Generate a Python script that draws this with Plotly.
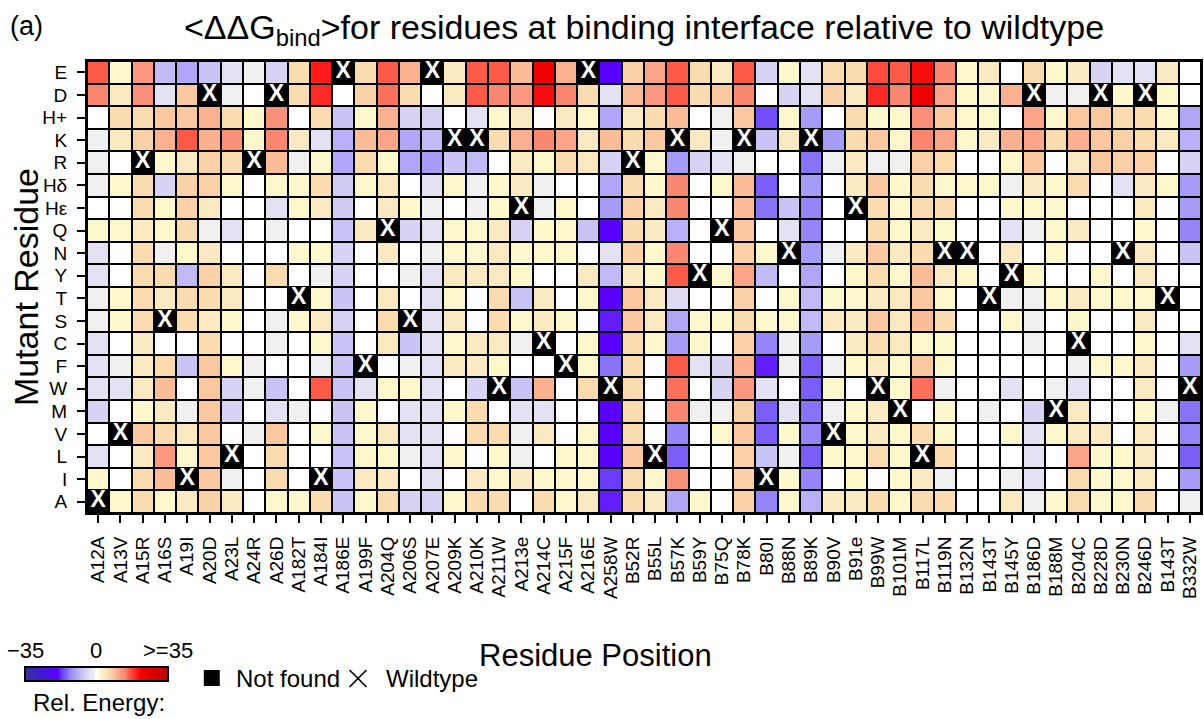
import plotly.graph_objects as go

# Residue positions at the binding interface (chain + number + wildtype residue)
positions = [
    "A12A", "A13V", "A15R", "A16S", "A19I", "A20D", "A23L", "A24R", "A26D", "A182T",
    "A184I", "A186E", "A199F", "A204Q", "A206S", "A207E", "A209K", "A210K", "A211W", "A213e",
    "A214C", "A215F", "A216E", "A258W", "B52R", "B55L", "B57K", "B59Y", "B75Q", "B78K",
    "B80I", "B88N", "B89K", "B90V", "B91e", "B99W", "B101M", "B117L", "B119N", "B132N",
    "B143T", "B145Y", "B186D", "B188M", "B204C", "B228D", "B230N", "B246D", "B143T", "B332W",
]

# Mutant residues, top to bottom
mutants = ["E", "D", "H+", "K", "R", "Hδ", "Hε", "Q", "N", "Y",
           "T", "S", "C", "F", "W", "M", "V", "L", "I", "A"]

# <ΔΔG_bind> relative to wildtype (None = wildtype residue at that position)
row_E = [16, 2, 12, -8, -10, -7, -3, -1, -5, 6, 20, None, 6,
         16, 10, None, 4, 16, 16, 9, 22, 10, None, -19, 7, 11,
         16, 6, 4, 16, -5, 2, -3, 6, 6, 17, 16, 21,
         14, 2, 4, 0, 6, 2, 4, -5, -3, -3, 4, 0]
row_D = [14, 4, 13, -3, 8, None, -1, 0, None, 6, 19, 0, 7,
         15, 6, 0, 4, 16, 14, 12, 21, 14, 6, -3, 9, 12,
         16, 6, 8, 14, 0, -5, -3, 7, 4, 19, 14, 22,
         11, 2, 2, 10, None, -1, -1, None, 2, None, 2, 0]
row_Hp = [0, 6, 6, 8, 8, 10, 6, 2, 13, 0, 6, -7, 2,
          10, -5, -5, 0, -3, 2, 4, 0, 4, 2, -10, 4, 6,
          9, 0, -1, 8, -16, 2, -11, 0, 6, 2, 2, 13,
          8, 2, 2, 0, 11, 2, 8, 8, 6, 6, 2, -10]
row_K = [-1, 4, 7, 10, 16, 10, 13, 2, 14, 4, -3, -9, 9,
         11, -10, -8, None, None, 6, 10, 14, 11, 4, 9, 6, 8,
         None, 4, -1, None, -7, 4, None, -11, 6, 8, 2, 14,
         11, 2, 4, 10, 11, 6, 10, 8, 7, 6, 4, -9]
row_R = [-1, 0, None, 2, 4, 7, 6, None, 9, -1, 2, -10, 6,
         2, -10, -11, -7, -8, 0, 4, 2, 6, 4, -5, None, 2,
         -11, -5, -3, -1, 0, 0, -14, -1, 4, -1, -1, 7,
         6, 0, 0, 2, 8, 0, 4, 8, 7, 7, 0, -5]
row_Hd = [-1, 2, 6, -5, 7, 7, 2, 0, 2, 2, 6, -6, 2,
          4, 0, -3, 2, -1, 2, 4, -1, 0, 0, -10, 6, 2,
          14, 0, 2, 9, -15, 0, -11, 0, 4, 8, 2, 6,
          2, 2, 2, -1, 4, 2, 6, 0, -3, 4, 2, -11]
row_He = [0, 0, 6, 2, 7, 4, 0, 0, -3, 2, 4, -6, 0,
          4, 2, -1, 0, -1, 2, None, -1, 2, 0, -11, 7, 4,
          14, 0, 0, 9, -14, -7, -13, 0, None, 6, 2, 6,
          6, 0, 0, 2, 2, 2, 0, 0, 0, 4, 0, -11]
row_Q = [2, 2, 4, 2, 6, -1, -3, 0, -1, 0, 0, -7, 4,
         None, -5, -3, 2, 2, 4, -5, 2, 2, -7, -19, 6, 4,
         -9, 0, None, 8, 0, -3, -13, 0, 0, 6, 2, 4,
         2, 0, 0, -3, -1, 2, 4, 0, 0, 2, 0, -13]
row_N = [-3, 0, 6, -1, 2, 4, 0, 0, 0, 2, 2, -5, 0,
         4, 0, -1, 2, 2, 4, 2, 2, 2, 0, -3, 7, 2,
         14, 0, 0, 7, 2, None, -11, -1, 4, 8, 4, 6,
         None, None, 0, 4, 0, 2, 0, 0, None, 4, 0, -7]
row_Y = [-3, 0, 6, 6, -8, 7, 4, 0, 6, 0, -1, -5, 0,
         0, -1, -3, 4, 4, 4, 2, 0, 0, 4, -8, 4, 2,
         16, None, 2, 11, -8, 0, -10, 0, 2, 6, 2, 9,
         4, 2, 0, None, 2, 0, 0, 2, 0, 4, 0, 0]
row_T = [-1, 2, 6, 4, 6, 6, 4, 0, 0, None, 2, -7, 0,
         4, 0, -3, 2, 0, 6, -7, 4, 0, 2, -19, 8, 4,
         -4, 0, 0, 7, 0, 2, -8, 2, 2, 4, 4, 8,
         2, 0, None, -1, -1, 2, 4, 2, 2, 2, None, 0]
row_S = [-1, 2, 6, None, 6, 4, 2, 0, -1, 2, 4, -5, 0,
         6, None, -3, 4, 0, 6, 2, 4, 2, 0, -18, 8, 4,
         -10, 2, 2, 6, 2, 2, -8, 4, 4, 8, 4, 9,
         6, 0, 0, 2, -1, 0, 2, 0, 0, 4, 0, 0]
row_C = [-3, 0, 4, 0, 0, 6, 0, 0, -1, 0, 2, -7, 0,
         4, -7, -3, 2, 4, 4, -1, None, 0, 2, -19, 6, 2,
         -11, 2, 0, 7, -13, -1, -11, 0, 4, 6, 4, 2,
         2, 0, 0, 0, -1, 0, None, 0, 0, 2, 0, -3]
row_F = [-3, -1, 4, 6, -7, 8, 2, -1, 0, 0, -1, -7, None,
         0, -1, -3, 4, 4, 2, 0, 0, None, 2, -14, 6, 0,
         16, -3, -5, 10, -18, -1, -15, -1, 2, 4, 2, 8,
         2, 0, 0, 0, 0, 0, -1, 2, 2, 4, 0, -11]
row_W = [-3, -3, 4, 9, 0, 8, -5, -1, -7, 0, 16, -7, -3,
         2, 2, -3, 0, -5, None, -7, 10, 0, 6, None, 6, 0,
         15, 0, -5, 12, -3, 0, -15, 2, 0, None, 2, 15,
         -1, 0, 0, -3, 0, -1, -3, 0, 0, 4, 0, None]
row_M = [-5, 0, 2, 4, -1, 8, -5, 0, -3, -1, 0, -7, 2,
         0, -3, -3, 2, 6, 0, -3, -3, 0, 0, -19, 6, 0,
         14, -1, -1, 7, -15, -3, -14, -1, 2, 4, None, 0,
         2, 0, -1, 0, -5, None, 4, 0, 0, 2, -1, -14]
row_V = [0, None, 8, 6, 4, 8, 0, -1, 8, 0, 2, -7, 2,
         4, -3, -3, 0, 6, 6, -1, 4, 0, 2, -19, 6, 0,
         -13, 0, 2, 8, -15, 2, -13, None, 2, 4, 2, 6,
         2, 0, 0, 2, -3, 2, 4, 4, 0, 4, 0, -13]
row_L = [-3, 0, 4, 12, 2, 8, None, 0, 6, 0, 0, -7, 2,
         2, -1, -3, 2, 0, 2, -1, 0, 2, 2, -19, 8, None,
         -15, 0, 0, 7, -7, -1, -15, 2, 2, 6, 2, None,
         6, 0, 0, 0, -3, 0, 11, 2, 2, 4, 0, -15]
row_I = [2, 0, 6, 9, None, 8, -1, 0, 6, 0, None, -7, 4,
         4, 0, -3, 0, 4, 2, 4, 2, 2, 2, -17, 6, 2,
         13, 0, 0, 7, None, 2, -13, 0, 2, 0, 2, 4,
         -1, 0, 0, -1, -3, 0, 6, 2, 2, 4, 0, -11]
row_A = [None, 2, 6, 2, 4, 7, 4, 0, 2, 2, 6, -7, 2,
         6, -5, -5, 2, 6, 6, 0, 6, 2, 4, -18, 6, 4,
         -10, 2, 0, 7, -13, 2, -9, 4, 4, 6, 2, 6,
         6, 0, 0, 4, -1, 2, 6, 2, 2, 6, 0, -1]

z = [row_E, row_D, row_Hp, row_K, row_R, row_Hd, row_He, row_Q, row_N, row_Y,
     row_T, row_S, row_C, row_F, row_W, row_M, row_V, row_L, row_I, row_A]

ZMIN, ZMAX = -35, 35

# Diverging scale: navy/violet for negative, white at 0, cream-salmon-red for positive
anchors = [
    (-35, "#34349a"), (-27, "#3f1ad2"), (-19, "#5a00ff"), (-17, "#6a3cff"),
    (-15, "#7b5ef8"), (-13, "#9585f8"), (-11, "#a59cf8"), (-9, "#b8b0f8"),
    (-7, "#c8c4f5"), (-5, "#d6d3f3"), (-3, "#e4e2f2"), (-1, "#f0f0f0"),
    (0, "#ffffff"), (2, "#fcf8cc"), (4, "#fbe9c2"), (6, "#fbdcb0"),
    (8, "#fbc8a0"), (10, "#fbb090"), (12, "#fa9880"), (14, "#fa8870"),
    (16, "#ff5a48"), (18, "#ff3a30"), (20, "#ff1a1a"), (22, "#f00000"),
    (35, "#c00000"),
]
colorscale = [[(v - ZMIN) / (ZMAX - ZMIN), c] for v, c in anchors]

# Wildtype cell of every position, taken from the last letter of its label
code_to_row = {m: i for i, m in enumerate(mutants)}
code_to_row["e"] = mutants.index("Hε")
wt_x = list(range(len(positions)))
wt_y = [code_to_row[p[-1]] for p in positions]

FONT = "Liberation Sans, Arial, sans-serif"
W, H = 1204, 719
L_M, R_M, T_M, B_M = 87, 1, 61, 206
PW, PH = W - L_M - R_M, H - T_M - B_M


def px_x(px):
    return (px - L_M) / PW


def px_y(py):
    return (H - B_M - py) / PH


fig = go.Figure()

fig.add_trace(go.Heatmap(
    z=z,
    x=list(range(len(positions))),
    y=list(range(len(mutants))),
    zmin=ZMIN, zmax=ZMAX,
    colorscale=colorscale,
    xgap=2, ygap=2,
    hoverongaps=False,
    colorbar=dict(
        orientation="h",
        x=px_x(25), xanchor="left",
        y=px_y(683), yanchor="bottom",
        lenmode="pixels", len=143,
        thickness=14,
        xpad=0, ypad=0,
        outlinewidth=2, outlinecolor="black",
        showticklabels=False, ticks="",
    ),
))

# White X on the black wildtype cells
fig.add_trace(go.Scatter(
    x=wt_x, y=wt_y, mode="text", text=["<b>X</b>"] * len(wt_x),
    textfont=dict(color="white", size=23, family=FONT),
    hoverinfo="skip", showlegend=False,
))

# Colour bar tick labels above the bar, caption below it
cb_left, cb_len = 25, 143
for val, txt in [(-35, "−35"), (0, "0"), (35, ">=35")]:
    px = cb_left + (val - ZMIN) / (ZMAX - ZMIN) * cb_len
    fig.add_annotation(
        xref="paper", yref="paper", x=px_x(px), y=px_y(650),
        text=txt, showarrow=False, xanchor="center", yanchor="middle",
        font=dict(size=22, color="black", family=FONT),
    )
fig.add_annotation(
    xref="paper", yref="paper", x=px_x(31), y=px_y(702),
    text="Rel. Energy:", showarrow=False, xanchor="left", yanchor="middle",
    font=dict(size=24, color="black", family=FONT),
)

# Key for the cell markers: filled square = not found, thin cross = wildtype
fig.add_shape(type="rect", xref="paper", yref="paper",
              x0=px_x(204), x1=px_x(220), y0=px_y(686), y1=px_y(670),
              fillcolor="black", line=dict(width=0))
fig.add_annotation(
    xref="paper", yref="paper", x=px_x(234), y=px_y(678),
    text="Not found", showarrow=False, xanchor="left", yanchor="middle",
    font=dict(size=24, color="black", family=FONT),
)
for (a, b, c, d) in [(350, 670, 367, 687), (350, 687, 367, 670)]:
    fig.add_shape(type="line", xref="paper", yref="paper",
                  x0=px_x(a), y0=px_y(b), x1=px_x(c), y1=px_y(d),
                  line=dict(color="black", width=1.6))
fig.add_annotation(
    xref="paper", yref="paper", x=px_x(385), y=px_y(678),
    text="Wildtype", showarrow=False, xanchor="left", yanchor="middle",
    font=dict(size=24, color="black", family=FONT),
)

# Panel tag
fig.add_annotation(
    xref="paper", yref="paper", x=px_x(8), y=px_y(26),
    text="(a)", showarrow=False, xanchor="left", yanchor="middle",
    font=dict(size=27, color="black", family=FONT),
)

# Axis titles
fig.add_annotation(
    xref="paper", yref="paper", x=px_x(596), y=px_y(655),
    text="Residue Position", showarrow=False, xanchor="center", yanchor="middle",
    font=dict(size=31, color="black", family=FONT),
)
fig.add_annotation(
    xref="paper", yref="paper", x=px_x(26), y=px_y(287),
    text="Mutant Residue", showarrow=False, textangle=-90,
    xanchor="center", yanchor="middle",
    font=dict(size=34, color="black", family=FONT),
)

axis_common = dict(
    showline=True, mirror=True, linecolor="black", linewidth=2,
    ticks="outside", ticklen=8, tickwidth=2, tickcolor="black",
    showgrid=False, zeroline=False,
)

fig.update_layout(
    width=W, height=H,
    margin=dict(l=L_M, r=R_M, t=T_M, b=B_M),
    paper_bgcolor="white",
    plot_bgcolor="black",
    font=dict(family=FONT, color="black"),
    showlegend=False,
    title=dict(
        text="&lt;ΔΔG<sub>bind</sub>&gt;for residues at binding interface relative to wildtype",
        xref="paper", x=0.5, xanchor="center",
        y=1 - 27 / H, yanchor="middle",
        font=dict(size=34, color="black", family=FONT),
    ),
    xaxis=dict(
        **axis_common,
        range=[-0.5, len(positions) - 0.5],
        tickmode="array", tickvals=list(range(len(positions))), ticktext=positions,
        tickangle=-90, tickfont=dict(size=19, color="black", family=FONT),
        ticklabelstandoff=6,
    ),
    yaxis=dict(
        **axis_common,
        range=[len(mutants) - 0.5, -0.5],
        tickmode="array", tickvals=list(range(len(mutants))), ticktext=mutants,
        tickfont=dict(size=19, color="black", family=FONT),
        ticklabelstandoff=6,
    ),
)

fig.write_html("out.html")
